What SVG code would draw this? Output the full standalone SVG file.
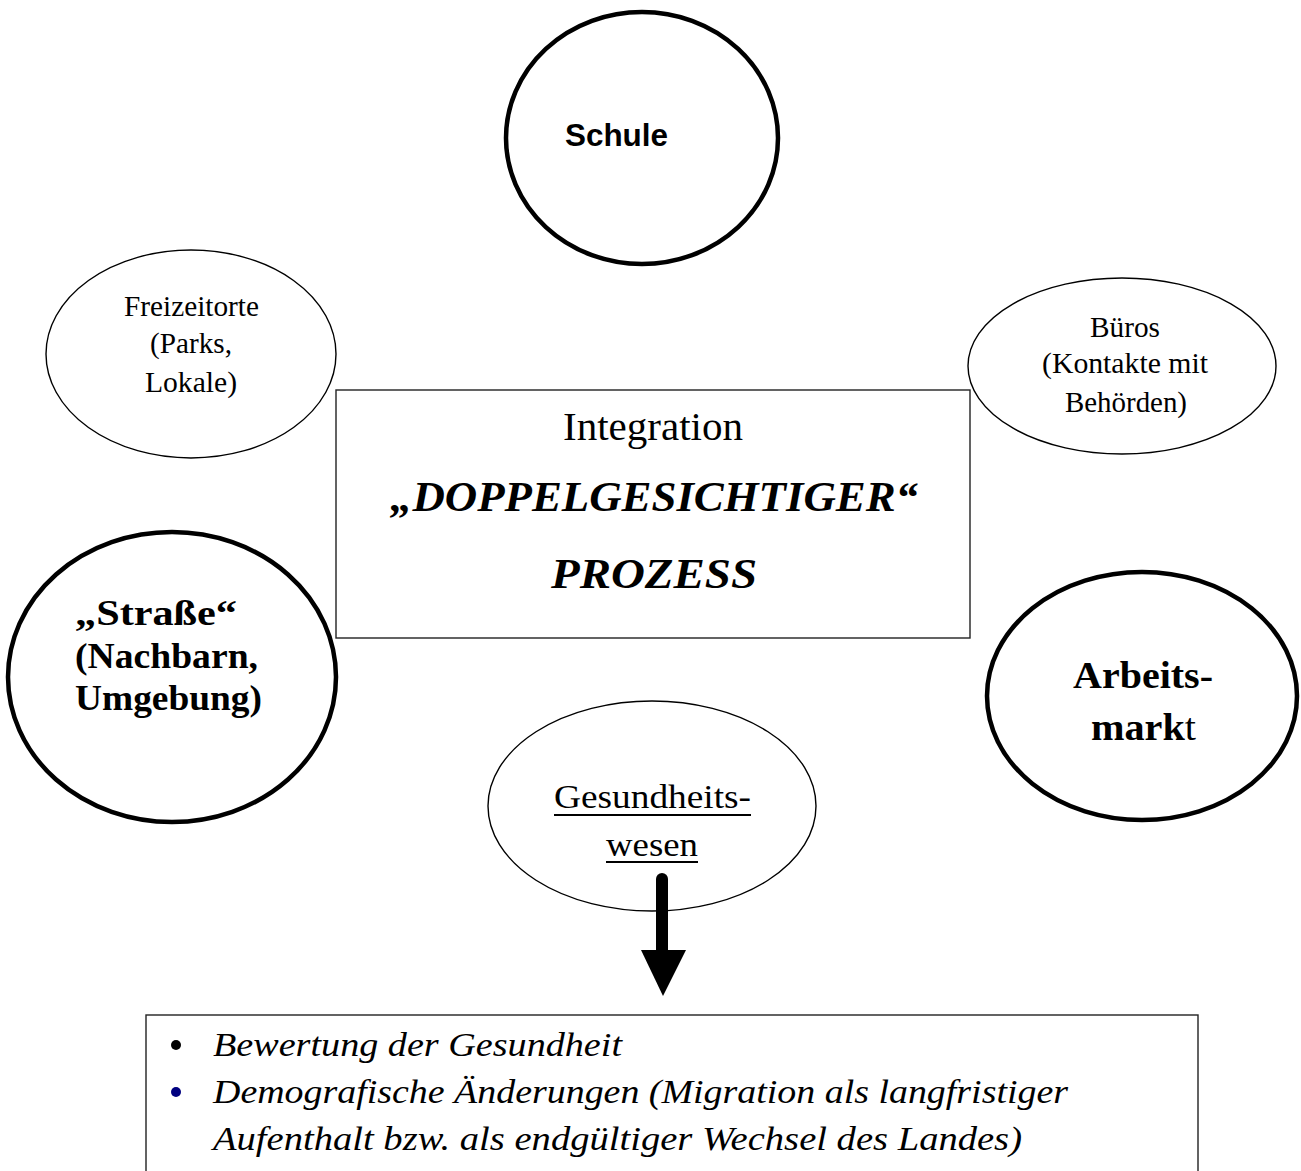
<svg xmlns="http://www.w3.org/2000/svg" width="1301" height="1171" viewBox="0 0 1301 1171">
<style>
.thick{fill:#fff;stroke:#000;stroke-width:4.5}
.thin{fill:#fff;stroke:#000;stroke-width:1.4}
.box{fill:#fff;stroke:#222;stroke-width:1.4}
.serif{font-family:'Liberation Serif','Times New Roman',Times,serif;fill:#000}
.sans{font-family:'Liberation Sans',Arial,Helvetica,sans-serif;fill:#000}
.b{font-weight:bold}
.i{font-style:italic}
</style>
<rect width="1301" height="1171" fill="#fff"/>
<g id="schule">
<ellipse class="thick" cx="642" cy="138" rx="136" ry="126"/>
<text class="sans b" x="565" y="146" font-size="31" textLength="103" lengthAdjust="spacingAndGlyphs">Schule</text>
</g>
<g id="freizeitorte">
<ellipse class="thin" cx="191" cy="354" rx="145" ry="104"/>
<g class="serif" font-size="29">
<text x="124" y="316" textLength="135" lengthAdjust="spacingAndGlyphs">Freizeitorte</text>
<text x="150" y="353" textLength="82" lengthAdjust="spacingAndGlyphs">(Parks,</text>
<text x="145" y="392" textLength="92" lengthAdjust="spacingAndGlyphs">Lokale)</text>
</g>
</g>
<g id="bueros">
<ellipse class="thin" cx="1122" cy="366" rx="154" ry="88"/>
<g class="serif" font-size="29">
<text x="1090" y="337" textLength="70" lengthAdjust="spacingAndGlyphs">Büros</text>
<text x="1042" y="373" textLength="166" lengthAdjust="spacingAndGlyphs">(Kontakte mit</text>
<text x="1065" y="412" textLength="122" lengthAdjust="spacingAndGlyphs">Behörden)</text>
</g>
</g>
<g id="integration">
<rect class="box" x="336" y="390" width="634" height="248"/>
<text class="serif" x="563" y="440" font-size="40" textLength="180" lengthAdjust="spacingAndGlyphs">Integration</text>
<text class="serif b i" x="390" y="511" font-size="42" textLength="528" lengthAdjust="spacingAndGlyphs">„DOPPELGESICHTIGER“</text>
<text class="serif b i" x="551" y="588" font-size="42" textLength="206" lengthAdjust="spacingAndGlyphs">PROZESS</text>
</g>
<g id="strasse">
<ellipse class="thick" cx="172" cy="677" rx="164" ry="145"/>
<g class="serif b" font-size="35">
<text x="75" y="625" textLength="162" lengthAdjust="spacingAndGlyphs">„Straße“</text>
<text x="75" y="668" textLength="183" lengthAdjust="spacingAndGlyphs">(Nachbarn,</text>
<text x="75" y="710" textLength="187" lengthAdjust="spacingAndGlyphs">Umgebung)</text>
</g>
</g>
<g id="arbeitsmarkt">
<ellipse class="thick" cx="1142" cy="696" rx="155" ry="124"/>
<text class="serif b" x="1073" y="688" font-size="37" textLength="140" lengthAdjust="spacingAndGlyphs">Arbeits-</text>
<text class="serif" x="1091" y="740" font-size="37" textLength="105" lengthAdjust="spacingAndGlyphs"><tspan class="b">mark</tspan>t</text>
</g>
<g id="gesundheitswesen">
<ellipse class="thin" cx="652" cy="806" rx="164" ry="105"/>
<text class="serif" x="554" y="808" font-size="34" textLength="197" lengthAdjust="spacingAndGlyphs">Gesundheits-</text>
<text class="serif" x="606" y="856" font-size="34" textLength="92" lengthAdjust="spacingAndGlyphs">wesen</text>
<line x1="554" y1="815" x2="751" y2="815" stroke="#000" stroke-width="2"/>
<line x1="606" y1="862" x2="698" y2="862" stroke="#000" stroke-width="2"/>
</g>
<g id="connectors">
<line x1="662" y1="879" x2="662" y2="952" stroke="#000" stroke-width="12" stroke-linecap="round"/>
<polygon points="641,950 686,950 663,996" fill="#000"/>
</g>
<g id="details">
<rect class="box" x="146" y="1015" width="1052" height="170"/>
<circle cx="176" cy="1045" r="5" fill="#000"/>
<circle cx="176" cy="1092" r="5" fill="#000080"/>
<g class="serif i" font-size="33">
<text x="213" y="1056" textLength="409" lengthAdjust="spacingAndGlyphs">Bewertung der Gesundheit</text>
<text x="213" y="1103" textLength="855" lengthAdjust="spacingAndGlyphs">Demografische Änderungen (Migration als langfristiger</text>
<text x="213" y="1150" textLength="809" lengthAdjust="spacingAndGlyphs">Aufenthalt bzw. als endgültiger Wechsel des Landes)</text>
</g>
</g>
</svg>
